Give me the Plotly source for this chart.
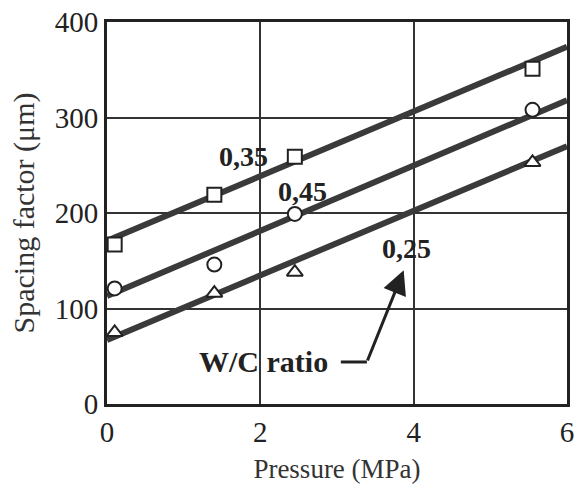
import plotly.graph_objects as go

# measured points
pressure = [0.1, 1.4, 2.45, 5.55]
wc035 = [167, 219, 259, 351]
wc045 = [121, 146, 199, 308]
wc025 = [75, 116, 138, 253]

# fitted lines (endpoints at x=0 and x=6)
fit_x = [0, 6]
fit035 = [171, 374]
fit045 = [113, 318]
fit025 = [67, 270]

x_ticks = [0, 2, 4, 6]
y_ticks = [0, 100, 200, 300, 400]

LINE = "#3a3a3a"
fig = go.Figure()
for fy in [fit035, fit045, fit025]:
    fig.add_trace(go.Scatter(x=fit_x, y=fy, mode="lines",
                             line=dict(color=LINE, width=6), showlegend=False))
for ys, sym in [(wc035, "square"), (wc045, "circle"), (wc025, "triangle-up")]:
    fig.add_trace(go.Scatter(x=pressure, y=ys, mode="markers",
                             marker=dict(symbol=sym, size=14, color="white",
                                         line=dict(width=2, color="#222")),
                             showlegend=False, cliponaxis=False))

font_lbl = dict(family="Liberation Serif", size=28, color="#222")
fig.add_annotation(x=1.78, y=259, text="<b>0,35</b>", showarrow=False, font=font_lbl)
fig.add_annotation(x=2.55, y=223, text="<b>0,45</b>", showarrow=False, font=font_lbl)
fig.add_annotation(x=3.9, y=163, text="<b>0,25</b>", showarrow=False, font=font_lbl)
fig.add_annotation(x=2.04, y=44, text="<b>W/C ratio</b>", showarrow=False,
                   font=dict(family="Liberation Serif", size=30, color="#222"))
# arrow
fig.add_shape(type="line", x0=3.05, y0=44, x1=3.39, y1=44, line=dict(color="#222", width=3))
fig.add_annotation(x=3.87, y=140, ax=3.39, ay=44, xref="x", yref="y", axref="x", ayref="y",
                   text="", showarrow=True, arrowhead=2, arrowsize=1.6, arrowwidth=3,
                   arrowcolor="#222")

axis_common = dict(showline=True, linecolor="#222", linewidth=3, mirror=True,
                   showgrid=True, gridcolor="#333", gridwidth=2, zeroline=False,
                   ticks="", tickfont=dict(family="Liberation Serif", size=29, color="#222"))
fig.update_xaxes(range=[0, 6], tickvals=x_ticks, **axis_common,
                 title=dict(text="Pressure (MPa)", font=dict(family="Liberation Serif", size=27, color="#333"),
                            standoff=13))
fig.update_yaxes(range=[0, 400], tickvals=y_ticks, **axis_common,
                 title=dict(text="Spacing factor (μm)", font=dict(family="Liberation Serif", size=30, color="#333"),
                            standoff=12))
fig.update_layout(width=580, height=493, margin=dict(l=107, r=6, t=21, b=89),
                  plot_bgcolor="white", paper_bgcolor="white")
fig.write_html("out.html")
